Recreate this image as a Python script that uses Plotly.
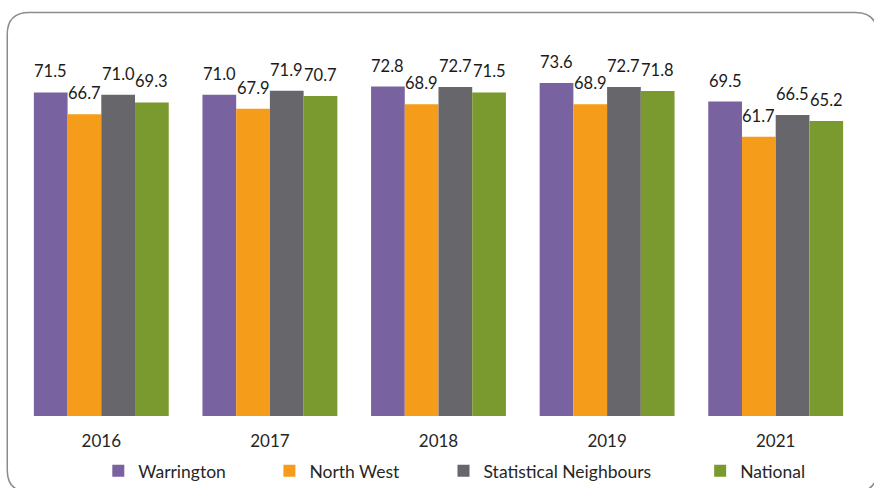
import plotly.graph_objects as go

years = ["2016", "2017", "2018", "2019", "2021"]
series_names = ["Warrington", "North West", "Statistical Neighbours", "National"]
warrington = [71.5, 71.0, 72.8, 73.6, 69.5]
north_west = [66.7, 67.9, 68.9, 68.9, 61.7]
stat_neighbours = [71.0, 71.9, 72.7, 72.7, 66.5]
national = [69.3, 70.7, 71.5, 71.8, 65.2]

values = [warrington, north_west, stat_neighbours, national]
colors = ["#7962A0", "#F59D1B", "#67666B", "#7A9A2F"]

W, H = 874, 488
ml, mr, mt, mb = 17.25, 14.25, 53.6, 72
plot_w = W - ml - mr
plot_h = H - mt - mb
ymax = 80

font_family = "Lato, 'Open Sans', sans-serif"

fig = go.Figure()
legend_marker_px = [122.5, 293.5, 467.5, 724]
for i, (name, vals, col) in enumerate(zip(series_names, values, colors)):
    lg = "legend" if i == 0 else f"legend{i+1}"
    fig.add_trace(go.Bar(
        x=years, y=vals, name=name, marker=dict(color=col, line=dict(width=0)),
        legend=lg,
    ))

# data labels (x given as category index so numeric-looking years aren't misread)
group_w = plot_w / len(years) * 0.8
bar_w = group_w / 4
annotations = []
for i, vals in enumerate(values):
    for j, v in enumerate(vals):
        annotations.append(dict(
            x=j, y=v, xref="x", yref="y", text=f"{v:.1f}", showarrow=False,
            xshift=(i - 1.5) * bar_w, yshift=21,
            font=dict(family=font_family, size=16.5, color="#1a1a1a"),
        ))

def px2paper(px, py):
    return (px - ml) / plot_w, (H - mb - py) / plot_h

# rounded frame
x0, y0, x1, y1, r = 7.5, 12, 877, 492, 22
def P(px, py):
    a, b = px2paper(px, py)
    return f"{a:.5f},{b:.5f}"
path = (f"M {P(x0 + r, y0)} L {P(x1 - r, y0)} Q {P(x1, y0)} {P(x1, y0 + r)} "
        f"L {P(x1, y1 - r)} Q {P(x1, y1)} {P(x1 - r, y1)} "
        f"L {P(x0 + r, y1)} Q {P(x0, y1)} {P(x0, y1 - r)} "
        f"L {P(x0, y0 + r)} Q {P(x0, y0)} {P(x0 + r, y0)} Z")

layout_legends = {}
for i in range(4):
    key = "legend" if i == 0 else f"legend{i+1}"
    lx, _ = px2paper(legend_marker_px[i] - 24, 0)
    _, ly = px2paper(0, 471)
    layout_legends[key] = dict(
        x=lx, y=ly, xanchor="left", yanchor="middle", orientation="h",
        bgcolor="rgba(0,0,0,0)", itemwidth=30,
        font=dict(family=font_family, size=17.5, color="#262626"),
        itemclick=False, itemdoubleclick=False,
    )

fig.update_layout(
    width=W, height=H,
    margin=dict(l=ml, r=mr, t=mt, b=mb, pad=0, autoexpand=False),
    paper_bgcolor="white", plot_bgcolor="white",
    barmode="group", bargap=0.2, bargroupgap=0,
    showlegend=True,
    xaxis=dict(type="category", categoryorder="array", categoryarray=years,
               range=[-0.5, len(years) - 0.5], autorange=False,
               showgrid=False, showline=False, zeroline=False,
               ticks="", tickfont=dict(family=font_family, size=17, color="#262626"),
               ticklabelstandoff=13),
    yaxis=dict(range=[0, ymax], autorange=False, visible=False),
    annotations=annotations,
    shapes=[dict(type="path", xref="paper", yref="paper", path=path,
                 line=dict(color="#8c8c8c", width=1.5), layer="below")],
    **layout_legends,
)

fig.write_html("out.html", config={"displayModeBar": False},
               post_script="document.body.style.margin='0';")
